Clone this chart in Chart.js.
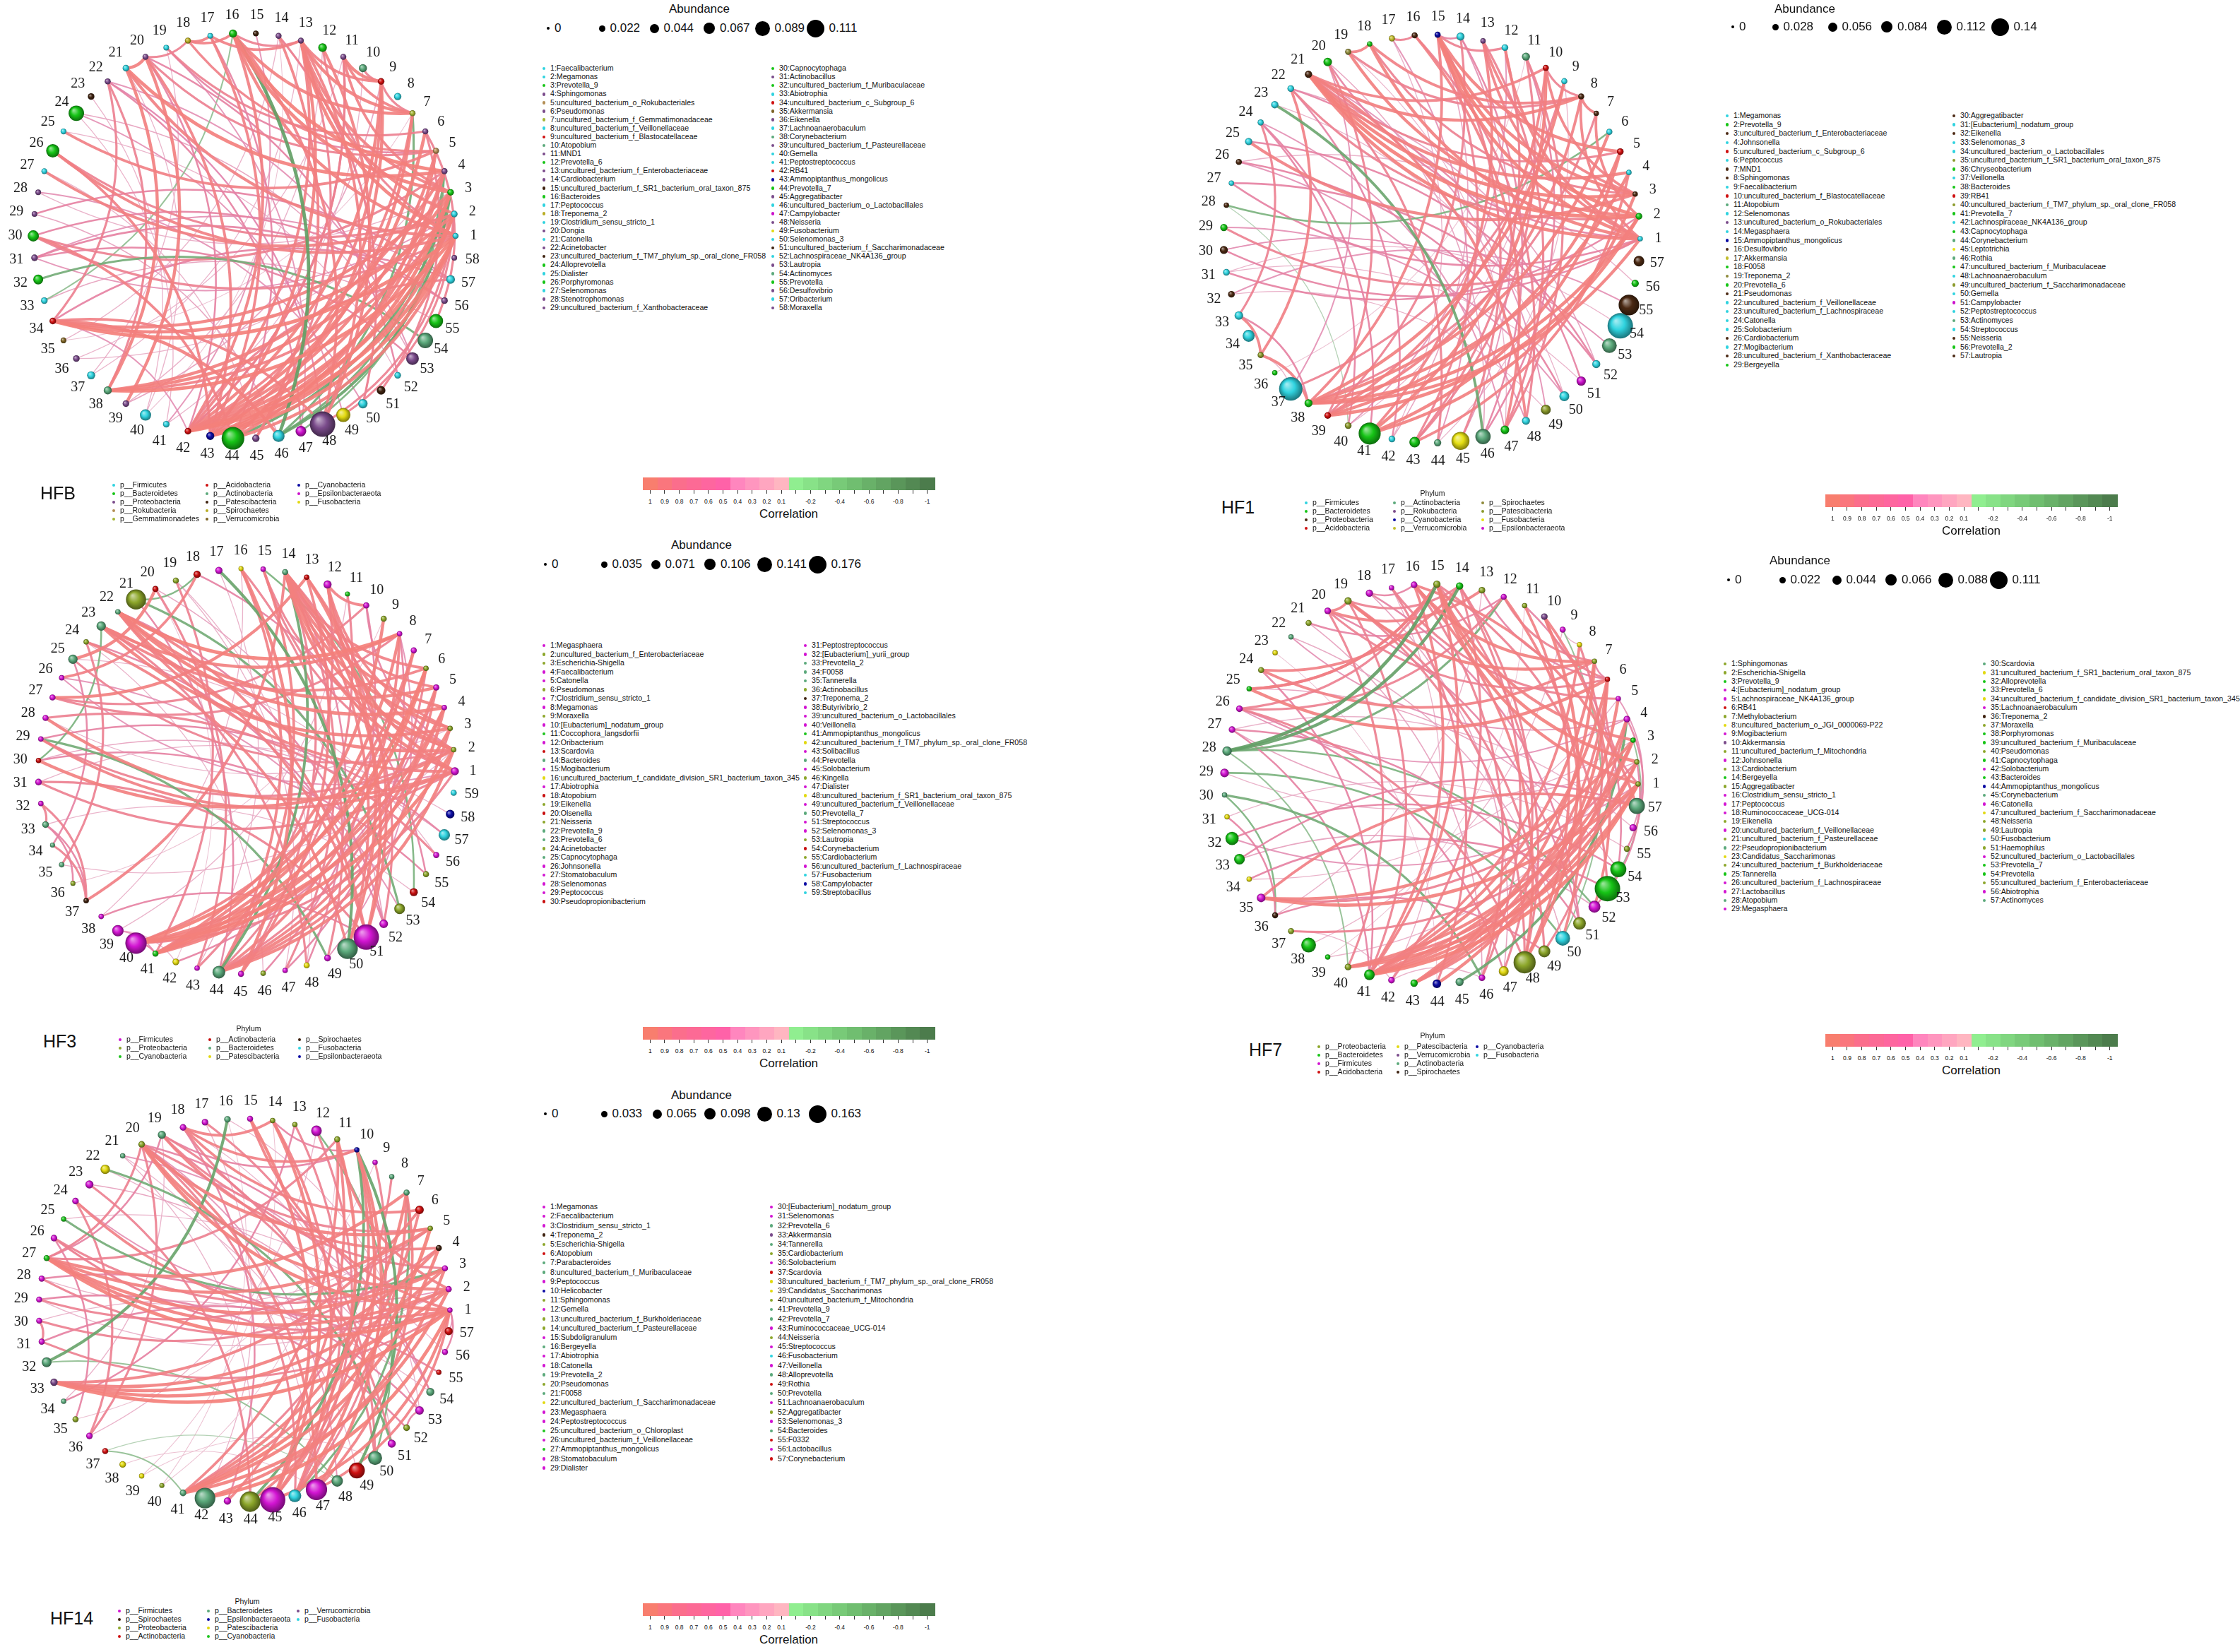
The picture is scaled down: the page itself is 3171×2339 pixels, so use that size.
<!DOCTYPE html>
<html>
<head>
<meta charset="utf-8">
<title>Co-occurrence networks HFB / HF1 / HF3 / HF7 / HF14</title>
<script src="https://cdn.jsdelivr.net/npm/chart.js@4.4.1/dist/chart.umd.min.js"></script>
<style>
  html, body { margin: 0; padding: 0; background: #fff; }
  #fig { position: relative; width: 3171px; height: 2339px; overflow: hidden; background: #fff;
         font-family: "Liberation Sans", Arial, Helvetica, sans-serif; color: #111; }
  #fig canvas { position: absolute; }
  #fig div { position: absolute; white-space: nowrap; }
</style>
</head>
<body>
<div id="fig"></div>
<script>
// ---------------- data ----------------
const phylumNames = { Fi: 'p__Firmicutes', Ba: 'p__Bacteroidetes', Pr: 'p__Proteobacteria', Ro: 'p__Rokubacteria',
  Ge: 'p__Gemmatimonadetes', Ac: 'p__Acidobacteria', At: 'p__Actinobacteria', Pa: 'p__Patescibacteria',
  Sp: 'p__Spirochaetes', Ve: 'p__Verrucomicrobia', Cy: 'p__Cyanobacteria', Ep: 'p__Epsilonbacteraeota', Fu: 'p__Fusobacteria' }

const corrTicks = [1, 0.9, 0.8, 0.7, 0.6, 0.5, 0.4, 0.3, 0.2, 0.1, -0.1, -0.2, -0.3, -0.4, -0.5, -0.6, -0.7, -0.8, -0.9, -1]
const corrTickLabels = ['1', '0.9', '0.8', '0.7', '0.6', '0.5', '0.4', '0.3', '0.2', '0.1', '', '-0.2', '', '-0.4', '', '-0.6', '', '-0.8', '', '-1']

// HFB
const hfbNames = ['Faecalibacterium','Megamonas','Prevotella_9','Sphingomonas','uncultured_bacterium_o_Rokubacteriales','Pseudomonas',
  'uncultured_bacterium_f_Gemmatimonadaceae','uncultured_bacterium_f_Veillonellaceae','uncultured_bacterium_f_Blastocatellaceae','Atopobium',
  'MND1','Prevotella_6','uncultured_bacterium_f_Enterobacteriaceae','Cardiobacterium','uncultured_bacterium_f_SR1_bacterium_oral_taxon_875',
  'Bacteroides','Peptococcus','Treponema_2','Clostridium_sensu_stricto_1','Dongia','Catonella','Acinetobacter',
  'uncultured_bacterium_f_TM7_phylum_sp._oral_clone_FR058','Alloprevotella','Dialister','Porphyromonas','Selenomonas','Stenotrophomonas',
  'uncultured_bacterium_f_Xanthobacteraceae','Capnocytophaga','Actinobacillus','uncultured_bacterium_f_Muribaculaceae','Abiotrophia',
  'uncultured_bacterium_c_Subgroup_6','Akkermansia','Eikenella','Lachnoanaerobaculum','Corynebacterium','uncultured_bacterium_f_Pasteurellaceae',
  'Gemella','Peptostreptococcus','RB41','Ammopiptanthus_mongolicus','Prevotella_7','Aggregatibacter','uncultured_bacterium_o_Lactobacillales',
  'Campylobacter','Neisseria','Fusobacterium','Selenomonas_3','uncultured_bacterium_f_Saccharimonadaceae','Lachnospiraceae_NK4A136_group',
  'Lautropia','Actinomyces','Prevotella','Desulfovibrio','Oribacterium','Moraxella']
const hfbPhyla = ['Fi','Fi','Ba','Pr','Ro','Pr','Ge','Fi','Ac','At','Pr','Ba','Pr','Pr','Pa','Ba','Fi','Sp','Fi','Pr',
  'Fi','Pr','Pa','Ba','Fi','Ba','Fi','Pr','Pr','Ba','Pr','Ba','Fi','Ac','Ve','Pr','Fi','At','Pr','Fi',
  'Fi','Ac','Cy','Ba','Pr','Fi','Ep','Pr','Fu','Fi','Pa','Fi','Pr','At','Ba','Pr','Fi','Pr']
const hfbAbund = [.006,.009,.009,.006,.006,.006,.006,.013,.009,.017,.006,.02,.005,.006,.005,.017,.004,.006,.004,.006,
  .009,.006,.009,.057,.005,.045,.005,.004,.004,.034,.009,.027,.009,.009,.005,.009,.017,.017,.009,.034,
  .009,.009,.017,.096,.013,.038,.031,.111,.05,.024,.02,.009,.042,.057,.05,.009,.02,.004]
const hfbSizeTicks = [0, 0.022, 0.044, 0.067, 0.089, 0.111]
const hfbLegendCols = [['Fi','Ba','Pr','Ro','Ge'], ['Ac','At','Pa','Sp','Ve'], ['Cy','Ep','Fu']]
const hfbLinks = [[34,1,.9],[34,2,.85],[34,3,.8],[34,57,.5],[34,48,.7],[34,46,.8],[34,42,.4],[34,22,.6],
  [38,1,.9],[38,3,.85],[38,4,.8],[38,21,.8],[38,22,.6],[38,2,.7],
  [42,1,.9],[42,2,.9],[42,3,.85],[42,4,.8],[42,5,.8],[42,6,.85],[42,7,.7],[42,9,.8],[42,13,.7],[42,16,.75],[42,11,.6],
  [43,1,.9],[43,2,.85],[43,3,.9],[43,4,.8],[43,7,.8],[43,9,.75],[43,13,.8],[43,17,.7],[43,20,.7],[43,26,.7],
  [46,3,-.75],[46,7,-.6],[16,46,-.85],[46,4,-.6],[44,3,-.7],[47,4,-.5],
  [16,1,.8],[16,3,.85],[16,4,.9],[16,7,.8],[16,13,.6],[16,18,.7],[16,48,.7],
  [13,1,.85],[13,2,.8],[13,3,.75],[13,7,.8],[13,9,.7],[13,17,.7],[13,45,.6],[13,48,.7],
  [11,7,.7],[11,9,.8],[11,3,.7],[11,42,.6],[9,10,.6],[9,7,.6],[9,44,.8],
  [12,48,.75],[12,1,.6],[17,44,.5],[17,18,.7],[18,20,.6],[19,6,.6],[19,5,.5],[18,5,.65],
  [21,4,.85],[21,1,.75],[21,20,.8],[20,39,.8],[20,5,.6],[22,53,.4],[22,47,.5],
  [24,49,.4],[25,5,.7],[26,1,.75],[26,2,.6],[27,2,.75],[28,50,.4],[29,57,.5],[30,1,.6],[30,4,.6],[31,57,.4],[31,56,.5],
  [32,54,-.6],[33,16,-.4],[23,40,.3],[35,7,.25],[36,4,.3],[37,13,.3],[39,12,.3],[40,14,.25],[41,15,.4],[45,14,.7],
  [49,2,.6],[50,14,.6],[51,6,.6],[52,20,.5],[53,31,.5],[55,6,.6],[56,30,.5],[57,42,.6],[48,2,.6],[44,30,.7],[44,1,.8],[44,5,.8],
  [24,53,.35],[22,48,.45],[20,42,.5],[25,52,.3],[27,45,.3],[28,3,.3],[29,46,.35],[31,2,.4],[33,55,.35],[35,14,.3],
  [36,11,.3],[37,19,.3],[39,9,.35],[40,21,.3],[41,24,.3],[19,47,.4],[14,50,.4],[10,41,.3]]

// HF1
const hf1Names = ['Megamonas','Prevotella_9','uncultured_bacterium_f_Enterobacteriaceae','Johnsonella','uncultured_bacterium_c_Subgroup_6',
  'Peptococcus','MND1','Sphingomonas','Faecalibacterium','uncultured_bacterium_f_Blastocatellaceae','Atopobium','Selenomonas',
  'uncultured_bacterium_o_Rokubacteriales','Megasphaera','Ammopiptanthus_mongolicus','Desulfovibrio','Akkermansia','F0058','Treponema_2',
  'Prevotella_6','Pseudomonas','uncultured_bacterium_f_Veillonellaceae','uncultured_bacterium_f_Lachnospiraceae','Catonella','Solobacterium',
  'Cardiobacterium','Mogibacterium','uncultured_bacterium_f_Xanthobacteraceae','Bergeyella','Aggregatibacter','[Eubacterium]_nodatum_group',
  'Eikenella','Selenomonas_3','uncultured_bacterium_o_Lactobacillales','uncultured_bacterium_f_SR1_bacterium_oral_taxon_875','Chryseobacterium',
  'Veillonella','Bacteroides','RB41','uncultured_bacterium_f_TM7_phylum_sp._oral_clone_FR058','Prevotella_7','Lachnospiraceae_NK4A136_group',
  'Capnocytophaga','Corynebacterium','Leptotrichia','Rothia','uncultured_bacterium_f_Muribaculaceae','Lachnoanaerobaculum',
  'uncultured_bacterium_f_Saccharimonadaceae','Gemella','Campylobacter','Peptostreptococcus','Actinomyces','Streptococcus','Neisseria',
  'Prevotella_2','Lautropia']
const hf1Phyla = ['Fi','Ba','Pr','Fi','Ac','Fi','Pr','Pr','Fi','Ac','At','Fi','Ro','Fi','Cy','Pr','Ve','Ba','Sp','Ba',
  'Pr','Fi','Fi','Fi','Fi','Pr','Fi','Pr','Ba','Pr','Fi','Pr','Fi','Fi','Pa','Ba','Fi','Ba','Ac','Pa',
  'Ba','Fi','Ba','At','Fu','At','Ba','Fi','Pa','Fi','Ep','Fi','At','Fi','Pr','Ba','Pr']
const hf1Abund = [.003,.012,.003,.003,.012,.008,.003,.008,.008,.008,.021,.012,.003,.021,.008,.008,.008,.003,.008,.025,
  .016,.012,.016,.008,.016,.008,.003,.003,.016,.021,.012,.012,.025,.048,.008,.003,.126,.021,.012,.012,
  .117,.012,.039,.016,.089,.071,.025,.021,.034,.034,.03,.021,.067,.14,.107,.016,.039]
const hf1SizeTicks = [0, 0.028, 0.056, 0.084, 0.112, 0.14]
const hf1LegendCols = [['Fi','Ba','Pr','Ac'], ['At','Ro','Cy','Ve'], ['Sp','Pa','Fu','Ep']]
const hf1Links = [[21,1,.85],[21,2,.9],[21,3,.85],[21,4,.8],[21,8,.8],[21,10,.7],[21,5,.6],[21,44,.6],[21,48,.7],
  [22,51,.5],[22,2,.6],[20,1,.5],[19,18,.7],[19,2,.8],[18,8,.7],[18,3,.6],[18,1,.8],
  [15,1,.85],[15,2,.9],[15,3,.8],[15,5,.8],[15,43,.6],[15,45,.6],[15,38,.7],[15,14,.5],[15,12,.6],
  [16,47,.7],[16,17,.6],[14,46,.5],[14,39,.6],[13,3,.7],[13,1,.7],[12,1,.75],[12,40,.4],[11,43,.6],[11,47,.6],
  [10,8,.6],[10,39,.7],[10,41,.8],[10,3,.7],[9,38,.8],[9,37,.6],[8,39,.7],[8,1,.7],[8,19,.6],[7,8,.7],[7,2,.7],[7,38,.6],
  [6,38,.8],[5,39,.8],[5,41,.8],[4,38,.8],[4,43,.7],[3,41,.8],[2,38,.85],[2,39,.85],[1,38,.8],[1,27,.5],
  [38,33,.5],[38,35,.7],[39,20,.6],[41,24,.5],[41,13,.7],[43,12,.6],[45,14,.4],[48,16,.6],[48,26,.4],[49,21,.4],
  [50,29,.4],[52,25,.5],[53,30,.4],[54,31,.3],[55,32,.4],[33,35,.7],[35,22,.7],[35,37,.3],[33,24,.6],[31,2,.5],
  [29,1,.6],[30,1,.5],[25,3,.75],[26,50,.5],[27,52,.5],[24,40,.5],[42,22,.5],[44,17,.4],[23,46,-.7],[6,28,-.5],
  [28,40,-.3],[47,13,.6],[46,11,.5],
  [20,46,.35],[22,52,.35],[24,47,.4],[26,56,.3],[30,53,.3],[31,51,.3],[32,49,.3],[36,11,.25],[37,20,.4],
  [40,10,.3],[42,15,.35],[44,9,.3],[47,19,.3],[50,23,.3],[17,42,.3]]

// HF3
const hf3Names = ['Megasphaera','uncultured_bacterium_f_Enterobacteriaceae','Escherichia-Shigella','Faecalibacterium','Catonella','Pseudomonas',
  'Clostridium_sensu_stricto_1','Megamonas','Moraxella','[Eubacterium]_nodatum_group','Coccophora_langsdorfii','Oribacterium','Scardovia',
  'Bacteroides','Mogibacterium','uncultured_bacterium_f_candidate_division_SR1_bacterium_taxon_345','Abiotrophia','Atopobium','Eikenella',
  'Olsenella','Neisseria','Prevotella_9','Prevotella_6','Acinetobacter','Capnocytophaga','Johnsonella','Stomatobaculum','Selenomonas',
  'Peptococcus','Pseudopropionibacterium','Peptostreptococcus','[Eubacterium]_yurii_group','Prevotella_2','F0058','Tannerella',
  'Actinobacillus','Treponema_2','Butyrivibrio_2','uncultured_bacterium_o_Lactobacillales','Veillonella','Ammopiptanthus_mongolicus',
  'uncultured_bacterium_f_TM7_phylum_sp._oral_clone_FR058','Solibacillus','Prevotella','Solobacterium','Kingella','Dialister',
  'uncultured_bacterium_f_SR1_bacterium_oral_taxon_875','uncultured_bacterium_f_Veillonellaceae','Prevotella_7','Streptococcus',
  'Selenomonas_3','Lautropia','Corynebacterium','Cardiobacterium','uncultured_bacterium_f_Lachnospiraceae','Fusobacterium','Campylobacter',
  'Streptobacillus']
const hf3Phyla = ['Fi','Pr','Pr','Fi','Fi','Pr','Fi','Fi','Pr','Fi','Cy','Fi','At','Ba','Fi','Pa','Fi','At','Pr','At',
  'Pr','Ba','Ba','Pr','Ba','Fi','Fi','Fi','Fi','At','Fi','Fi','Ba','Ba','Ba','Pr','Sp','Fi','Fi','Fi',
  'Cy','Pa','Fi','Ba','Fi','Pr','Fi','Pa','Fi','Ba','Fi','Fi','Pr','At','Pr','Fi','Fu','Ep','Fu']
const hf3Abund = [.027,.004,.004,.004,.01,.004,.01,.004,.01,.01,.001,.027,.004,.01,.004,.001,.02,.02,.01,.01,
  .13,.004,.038,.004,.038,.004,.01,.01,.004,.004,.015,.004,.015,.001,.004,.001,.004,.004,.055,.141,
  .01,.015,.004,.067,.01,.004,.004,.01,.015,.135,.176,.032,.049,.027,.01,.01,.055,.032,.01]
const hf3SizeTicks = [0, 0.035, 0.071, 0.106, 0.141, 0.176]
const hf3LegendCols = [['Fi','Pr','Cy'], ['At','Ba','Pa'], ['Sp','Fu','Ep']]
const hf3Links = [[14,1,.8],[14,2,.85],[14,3,.8],[14,4,.8],[14,5,.7],[14,6,.7],[14,50,.7],[14,51,.8],[14,52,.6],[14,47,.6],[14,45,.6],
  [15,1,.6],[15,2,.6],[15,44,.7],[16,45,.8],[16,44,.7],[16,49,.6],
  [12,1,.8],[12,3,.7],[12,2,.7],[12,10,.7],[11,44,.6],[10,2,.5],[9,41,.8],[8,22,.9],[8,23,.8],[8,27,.6],[8,41,.8],[8,44,.7],
  [7,41,.8],[7,40,.7],[6,40,.9],[6,41,.9],[5,41,.8],[4,41,.8],[3,40,.85],[3,44,.7],[2,40,.9],[2,44,.8],[2,30,.8],[2,29,.6],
  [1,29,.7],[1,28,.8],[1,22,.7],[1,31,.6],
  [22,2,.8],[22,4,.85],[22,5,.8],[22,51,.7],[22,52,.5],[23,3,.8],[23,6,.7],[23,48,.6],[23,51,.7],[24,50,.7],[25,20,.8],[25,2,.6],
  [26,18,.7],[27,13,.8],[27,10,.6],[13,50,.8],[13,51,.7],[18,55,.5],[19,41,.6],[20,43,.6],[21,44,.5],[37,14,.7],[37,32,.6],
  [37,34,.6],[37,33,.5],[32,33,.6],[31,51,.6],[33,36,.5],[35,24,.6],[34,25,.5],[38,51,.5],[39,42,.3],[28,56,.6],[29,57,.5],
  [30,55,.5],[26,53,.4],[24,52,.5],[46,10,.5],[47,8,.5],[48,14,.5],[49,8,.4],[42,5,.5],[43,12,.6],[45,13,.7],[44,4,.8],[44,5,.7],
  [44,6,.6],[40,4,.8],[40,1,.6],[40,41,.5],
  [17,50,-.75],[14,44,-.7],[15,54,-.5],[21,53,-.6],[29,49,-.6],[23,30,-.5],[18,21,-.5],[41,39,.4],
  [19,47,.3],[20,52,.35],[25,56,.3],[26,1,.4],[28,3,.3],[30,57,.35],[31,58,.3],[33,54,.3],[35,2,.3],[36,9,.25],
  [38,16,.3],[39,11,.3],[42,20,.25],[43,17,.3],[46,24,.3],[48,19,.3]]

// HF7
const hf7Names = ['Sphingomonas','Escherichia-Shigella','Prevotella_9','[Eubacterium]_nodatum_group','Lachnospiraceae_NK4A136_group','RB41',
  'Methylobacterium','uncultured_bacterium_o_JGI_0000069-P22','Mogibacterium','Akkermansia','uncultured_bacterium_f_Mitochondria',
  'Johnsonella','Cardiobacterium','Bergeyella','Aggregatibacter','Clostridium_sensu_stricto_1','Peptococcus','Ruminococcaceae_UCG-014',
  'Eikenella','uncultured_bacterium_f_Veillonellaceae','uncultured_bacterium_f_Pasteurellaceae','Pseudopropionibacterium',
  'Candidatus_Saccharimonas','uncultured_bacterium_f_Burkholderiaceae','Tannerella','uncultured_bacterium_f_Lachnospiraceae','Lactobacillus',
  'Atopobium','Megasphaera','Scardovia','uncultured_bacterium_f_SR1_bacterium_oral_taxon_875','Alloprevotella','Prevotella_6',
  'uncultured_bacterium_f_candidate_division_SR1_bacterium_taxon_345','Lachnoanaerobaculum','Treponema_2','Moraxella','Porphyromonas',
  'uncultured_bacterium_f_Muribaculaceae','Pseudomonas','Capnocytophaga','Solobacterium','Bacteroides','Ammopiptanthus_mongolicus',
  'Corynebacterium','Catonella','uncultured_bacterium_f_Saccharimonadaceae','Neisseria','Lautropia','Fusobacterium','Haemophilus',
  'uncultured_bacterium_o_Lactobacillales','Prevotella_7','Prevotella','uncultured_bacterium_f_Enterobacteriaceae','Abiotrophia','Actinomyces']
const hf7Phyla = ['Pr','Pr','Ba','Fi','Fi','Ac','Pr','Pa','Fi','Ve','Pr','Fi','Pr','Ba','Pr','Fi','Fi','Fi','Pr','Fi',
  'Pr','At','Pa','Pr','Ba','Fi','Fi','At','Fi','At','Pa','Ba','Ba','Pa','Fi','Sp','Pr','Ba','Ba','Pr',
  'Ba','Fi','Ba','Cy','At','Fi','Pa','Pr','Pr','Fu','Pr','Fi','Ba','Ba','Pr','Fi','At']
const hf7Abund = [.002,.002,.002,.009,.002,.002,.002,.002,.006,.009,.002,.006,.009,.013,.013,.009,.002,.013,.013,.009,
  .006,.002,.002,.006,.002,.009,.009,.024,.02,.002,.002,.045,.031,.002,.02,.006,.006,.053,.002,.009,
  .031,.009,.013,.02,.017,.009,.027,.093,.038,.053,.042,.038,.111,.06,.006,.013,.06]
const hf7SizeTicks = [0, 0.022, 0.044, 0.066, 0.088, 0.111]
const hf7LegendCols = [['Pr','Ba','Fi','Ac'], ['Pa','Ve','At','Sp'], ['Cy','Fu']]
const hf7Links = [[28,15,-.85],[28,14,-.8],[28,12,-.6],[28,52,-.5],[29,50,-.5],[30,46,-.6],[30,36,-.5],[28,40,-.4],[45,4,-.7],[9,50,-.4],[3,53,-.4],
  [41,1,.9],[41,2,.85],[41,3,.8],[41,4,.8],[41,6,.8],[41,7,.75],[41,15,.7],[41,16,.7],[41,19,.6],[41,8,.7],[41,24,.5],
  [40,1,.85],[40,3,.8],[40,2,.7],[40,20,.6],[43,5,.8],[43,6,.7],[43,7,.8],[43,4,.7],[44,6,.8],[44,17,.6],[42,14,.6],
  [15,1,.8],[15,2,.85],[15,3,.75],[15,25,.7],[15,26,.6],[15,53,.6],[15,48,.6],[16,7,.8],[16,57,.7],[16,48,.7],[16,46,.6],[16,18,.5],
  [19,7,.8],[19,20,.7],[19,14,.6],[19,48,.6],[19,49,.6],[20,13,.7],[20,6,.6],[21,12,.5],[22,4,.4],[24,7,.7],[24,14,.7],
  [25,6,.8],[25,15,.7],[26,12,.6],[26,47,.5],[26,48,.6],[27,41,.5],[27,51,.5],
  [35,1,.85],[35,3,.8],[35,57,.7],[35,2,.6],[32,54,.5],[33,57,.5],[34,53,.5],[31,36,.5],[37,1,.6],[37,42,.3],[39,3,.3],
  [10,48,.8],[10,52,.7],[10,6,.6],[11,48,.7],[11,54,.5],[12,50,.7],[12,7,.6],[13,6,.5],[14,46,.6],[14,47,.6],[17,5,.6],
  [18,51,.5],[9,8,.3],[8,49,.6],[7,6,.5],[6,1,.6],[5,56,.4],[4,55,.5],[2,52,.5],[49,36,.5],[46,42,.3],[51,20,.5],
  [21,46,.35],[22,50,.3],[23,44,.25],[26,4,.4],[27,2,.35],[29,3,.3],[31,55,.3],[32,1,.4],[33,52,.35],[34,5,.3],
  [36,13,.3],[38,9,.3],[39,11,.25],[42,17,.3],[47,18,.35],[50,22,.3],[54,25,.35],[56,27,.3]]

// HF14
const hf14Names = ['Megamonas','Faecalibacterium','Clostridium_sensu_stricto_1','Treponema_2','Escherichia-Shigella','Atopobium',
  'Parabacteroides','uncultured_bacterium_f_Muribaculaceae','Peptococcus','Helicobacter','Sphingomonas','Gemella',
  'uncultured_bacterium_f_Burkholderiaceae','uncultured_bacterium_f_Pasteurellaceae','Subdoligranulum','Bergeyella','Abiotrophia',
  'Catonella','Prevotella_2','Pseudomonas','F0058','uncultured_bacterium_f_Saccharimonadaceae','Megasphaera','Peptostreptococcus',
  'uncultured_bacterium_o_Chloroplast','uncultured_bacterium_f_Veillonellaceae','Ammopiptanthus_mongolicus','Stomatobaculum','Dialister',
  '[Eubacterium]_nodatum_group','Selenomonas','Prevotella_6','Akkermansia','Tannerella','Cardiobacterium','Solobacterium','Scardovia',
  'uncultured_bacterium_f_TM7_phylum_sp._oral_clone_FR058','Candidatus_Saccharimonas','uncultured_bacterium_f_Mitochondria','Prevotella_9',
  'Prevotella_7','Ruminococcaceae_UCG-014','Neisseria','Streptococcus','Fusobacterium','Veillonella','Alloprevotella','Rothia','Prevotella',
  'Lachnoanaerobaculum','Aggregatibacter','Selenomonas_3','Bacteroides','F0332','Lactobacillus','Corynebacterium']
const hf14Phyla = ['Fi','Fi','Fi','Sp','Pr','At','Ba','Ba','Fi','Ep','Pr','Fi','Pr','Pr','Fi','Ba','Fi','Fi','Ba','Pr',
  'Ba','Pa','Fi','Fi','Cy','Fi','Cy','Fi','Fi','Fi','Fi','Ba','Ve','Ba','Pr','Fi','At','Pa','Pa','Pr',
  'Ba','Ba','Fi','Pr','Fi','Fu','Fi','Ba','At','Ba','Fi','Pr','Fi','Ba','At','Fi','At']
const hf14Abund = [.003,.009,.009,.009,.003,.029,.009,.003,.003,.003,.009,.045,.003,.003,.009,.013,.013,.013,.025,.013,
  .003,.035,.025,.013,.003,.013,.009,.009,.009,.009,.009,.039,.019,.003,.009,.013,.009,.013,.003,.001,
  .013,.125,.019,.125,.163,.062,.13,.051,.088,.072,.025,.013,.029,.025,.003,.009,.025]
const hf14SizeTicks = [0, 0.033, 0.065, 0.098, 0.13, 0.163]
const hf14LegendCols = [['Fi','Sp','Pr','At'], ['Ba','Ep','Pa','Cy'], ['Ve','Fu']]
const hf14Links = [[27,1,.9],[27,2,.8],[27,3,.85],[27,5,.8],[27,7,.8],[27,11,.6],[27,19,.5],[27,20,.6],
  [33,1,.9],[33,2,.85],[33,3,.8],[33,4,.8],[33,6,.7],
  [20,1,.85],[20,2,.8],[20,5,.8],[20,47,.7],[20,51,.6],[20,46,.6],[19,4,.7],[19,5,.6],[19,10,.5],[18,14,.7],[18,10,.7],[18,6,.7],
  [18,3,.6],[17,50,.6],[15,45,.8],[15,1,.7],[14,46,.7],[14,45,.8],[13,46,.6],[11,45,.8],[11,43,.7],[11,41,.7],[11,2,.7],[9,46,.6],
  [8,41,.6],[7,41,.8],[7,44,.7],[7,47,.7],[6,41,.7],[5,41,.9],[4,41,.85],[3,42,.8],[2,41,.85],[1,42,.9],[1,45,.8],[1,47,.7],
  [1,31,.6],[1,26,.6],[1,24,.7],[2,28,.6],[3,26,.6],[4,30,.6],[5,29,.6],[10,47,.8],[10,46,.8],[10,45,.7],[12,46,.6],[14,10,.5],
  [23,44,.6],[24,36,.6],[26,35,.5],[28,53,.5],[29,52,.5],[30,31,.6],[31,55,.5],[34,13,.5],[36,20,.6],[21,54,.4],[38,47,.25],
  [39,50,.25],[40,16,.25],[43,18,.5],[48,20,.4],[49,22,.3],[50,19,.6],[52,53,.5],[54,20,.5],[56,1,.5],[57,1,.4],
  [32,16,-.75],[32,48,-.4],[10,49,-.75],[10,44,-.7],[12,50,-.5],[22,51,-.6],[25,3,-.6],[7,46,-.6],[41,37,-.4],
  [21,47,.3],[23,53,.35],[24,2,.4],[25,56,.3],[26,1,.35],[28,5,.3],[29,2,.3],[30,54,.3],[34,19,.3],[35,9,.25],
  [36,12,.3],[37,48,-.3],[39,14,.25],[40,11,.25],[42,17,.3],[44,21,.3],[51,18,.3],[53,16,.3]]

// ---------------- styles ----------------
const hfbColors = {Fi:'#2fd3df', Ba:'#16c416', Pr:'#7a4b8b', Ro:'#b38e55', Ge:'#a5b535', Ac:'#cf1010', At:'#5ba97b',
  Pa:'#3e2210', Sp:'#b9ad25', Ve:'#7d6325', Cy:'#0b0ba3', Ep:'#cc10cc', Fu:'#e2d910'}
const hf1Colors = {Fi:'#2fd3df', Ba:'#16c416', Pr:'#4b2913', Ac:'#cf1010', At:'#5ba97b', Ro:'#7a4b8b', Cy:'#0b0ba3',
  Ve:'#c2bd2d', Sp:'#8e8a3a', Pa:'#8b9a2b', Fu:'#e6e012', Ep:'#cc10cc'}
const hf3Colors = {Fi:'#d214d2', Pr:'#8ca62a', Cy:'#1ec41e', At:'#c80e0e', Ba:'#5ba97b', Pa:'#e2d910', Sp:'#3e2210',
  Fu:'#2fd3df', Ep:'#0b0ba3'}
const hf7Colors = {Pr:'#8ca62a', Ba:'#16c416', Fi:'#d214d2', Ac:'#cf1010', Pa:'#e2d910', Ve:'#7a4b8b', At:'#5ba97b',
  Sp:'#3e2210', Cy:'#0b0ba3', Fu:'#2fd3df'}
const hf14Colors = {Fi:'#d214d2', Sp:'#3e2210', Pr:'#8ca62a', At:'#cf1010', Ba:'#5ba97b', Ep:'#0b0ba3', Pa:'#e2d910',
  Cy:'#1ec41e', Ve:'#7a4b8b', Fu:'#2fd3df'}

const panels = [
  {tag:'HFB', names:hfbNames, phyla:hfbPhyla, abund:hfbAbund, links:hfbLinks, colors:hfbColors, legendCols:hfbLegendCols, sizeTicks:hfbSizeTicks,
   lay:{cx:346, cy:334, rx:314, ry:302, tagXY:[57,698], lst:[770,1094,97,12.1], dots:[776,852,926,1004,1079,1154], abY:40, abTitle:[990,13],
        phyl:[[161,293,423],687], phylTitle:null, bar:[910,676]}},
  {tag:'HF1', names:hf1Names, phyla:hf1Phyla, abund:hf1Abund, links:hf1Links, colors:hf1Colors, legendCols:hf1LegendCols, sizeTicks:hf1SizeTicks,
   lay:{cx:2027, cy:338, rx:310, ry:304, tagXY:[1729,718], lst:[2445,2766,164,12.6], dots:[2453,2513,2594,2671,2752,2831], abY:38, abTitle:[2555,13],
        phyl:[[1849,1974,2099],712], phylTitle:[2028,699], bar:[2584,700]}},
  {tag:'HF3', names:hf3Names, phyla:hf3Phyla, abund:hf3Abund, links:hf3Links, colors:hf3Colors, legendCols:hf3LegendCols, sizeTicks:hf3SizeTicks,
   lay:{cx:349, cy:1092, rx:310, ry:302, tagXY:[61,1474], lst:[770,1140,914,12.5], dots:[772,855,928,1005,1082,1157], abY:799, abTitle:[993,772],
        phyl:[[170,297,424],1472], phylTitle:[352,1457], bar:[910,1454]}},
  {tag:'HF7', names:hf7Names, phyla:hf7Phyla, abund:hf7Abund, links:hf7Links, colors:hf7Colors, legendCols:hf7LegendCols, sizeTicks:hf7SizeTicks,
   lay:{cx:2026, cy:1110, rx:308, ry:298, tagXY:[1768,1486], lst:[2442,2809,940,12.4], dots:[2447,2523,2600,2677,2754,2829], abY:821, abTitle:[2548,794],
        phyl:[[1867,1979,2091],1482], phylTitle:[2028,1467], bar:[2584,1464]}},
  {tag:'HF14', names:hf14Names, phyla:hf14Phyla, abund:hf14Abund, links:hf14Links, colors:hf14Colors, legendCols:hf14LegendCols, sizeTicks:hf14SizeTicks,
   lay:{cx:346, cy:1855, rx:306, ry:286, tagXY:[71,2291], lst:[770,1092,1709,13.2], dots:[772,855,930,1005,1082,1157], abY:1577, abTitle:[993,1551],
        phyl:[[169,295,422],2281], phylTitle:[350,2268], bar:[910,2270]}}
]

// ---------------- helpers ----------------
const fig = document.getElementById('fig')

function hexRgb(h) {
  const n = parseInt(h.slice(1), 16)
  return [n >> 16 & 255, n >> 8 & 255, n & 255]
}
function mix(a, b, t) { return a.map((v, i) => Math.round(v + (b[i] - v) * t)) }
function rgba(a, al = 1) { return `rgba(${a[0]},${a[1]},${a[2]},${al})` }
function ramp(stops, v) {
  if (v <= stops[0][0]) return stops[0][1]
  for (let i = 1; i < stops.length; i++) {
    if (v <= stops[i][0]) {
      const t = (v - stops[i - 1][0]) / (stops[i][0] - stops[i - 1][0])
      return mix(stops[i - 1][1], stops[i][1], t)
    }
  }
  return stops[stops.length - 1][1]
}

const barPos = [[0.1,[255,182,193]],[0.4,[255,134,190]],[0.5,[255,98,168]],[0.8,[251,110,140]],[1,[248,126,110]]]
const barNeg = [[0.1,[144,238,144]],[0.5,[112,190,112]],[1,[76,124,76]]]
const barColor = v => v > 0 ? ramp(barPos, v) : ramp(barNeg, -v)

const edgePos = [[0.2,[236,202,214]],[0.45,[226,130,172]],[0.65,[240,128,136]],[1,[245,128,118]]]
const edgeNeg = [[0.2,[206,222,206]],[0.45,[128,182,130]],[1,[88,150,92]]]
const edgeColor = r => r > 0 ? ramp(edgePos, r) : ramp(edgeNeg, -r)

function put(css, text) {
  const d = document.createElement('div')
  d.style.cssText = css
  if (text !== undefined) d.textContent = text
  fig.appendChild(d)
  return d
}
// left-aligned text, y = vertical centre
function txt(x, y, text, size) {
  return put(`left:${x}px;top:${y - size * 0.65}px;font-size:${size}px;line-height:${size * 1.3}px;`, text)
}
// centred text
function ctxt(x, y, text, size) {
  return put(`left:${x - 200}px;width:400px;text-align:center;top:${y - size * 0.65}px;font-size:${size}px;line-height:${size * 1.3}px;`, text)
}
function dot(x, y, d, col) {
  return put(`left:${x - d / 2}px;top:${y - d / 2}px;width:${d}px;height:${d}px;border-radius:50%;background:${col};`)
}

// ---------------- plugins ----------------
const edgePlugin = {
  id: 'edges',
  beforeDatasetsDraw(chart, args, opts) {
    const meta = chart.getDatasetMeta(0)
    const c = chart.ctx
    const list = opts.links.slice().sort((a, b) => Math.abs(a[2]) - Math.abs(b[2]))
    c.save()
    c.lineCap = 'round'
    for (const [a, b, r] of list) {
      const p = meta.data[Math.min(a, b) - 1], q = meta.data[Math.max(a, b) - 1]
      if (!p || !q) continue
      const dx = q.x - p.x, dy = q.y - p.y
      const k = 0.25
      const mx = (p.x + q.x) / 2 + k * dy, my = (p.y + q.y) / 2 - k * dx
      const s = Math.min(1, Math.max(0, (Math.abs(r) - 0.2) / 0.7))
      c.strokeStyle = rgba(edgeColor(r), 0.92)
      c.lineWidth = 0.7 + 4.3 * s
      c.beginPath()
      c.moveTo(p.x, p.y)
      c.quadraticCurveTo(mx, my, q.x, q.y)
      c.stroke()
    }
    c.restore()
  }
}

const labelPlugin = {
  id: 'nodeLabels',
  afterDatasetsDraw(chart, args, opts) {
    const c = chart.ctx, xs = chart.scales.x, ys = chart.scales.y
    c.save()
    c.font = '20px "Liberation Serif", "DejaVu Serif", serif'
    c.fillStyle = '#1a1a1a'
    c.textAlign = 'center'
    c.textBaseline = 'middle'
    for (let i = 0; i < opts.count; i++) {
      const a = 2 * Math.PI * i / opts.count
      c.fillText(String(i + 1), xs.getPixelForValue(Math.cos(a) * opts.kx), ys.getPixelForValue(Math.sin(a) * opts.ky))
    }
    c.restore()
  }
}

// ---------------- build ----------------
function buildPanel(P) {
  const L = P.lay
  const n = P.names.length
  const amax = P.sizeTicks[P.sizeTicks.length - 1]
  const radius = i => 3.5 + 14.5 * P.abund[i] / amax
  const M = 60
  const W = Math.round(2 * (L.rx + M)), H = Math.round(2 * (L.ry + M))
  const canvas = document.createElement('canvas')
  canvas.width = W
  canvas.height = H
  canvas.style.left = (L.cx - W / 2) + 'px'
  canvas.style.top = (L.cy - H / 2) + 'px'
  canvas.style.width = W + 'px'
  canvas.style.height = H + 'px'
  fig.appendChild(canvas)

  const pts = P.names.map((_, i) => ({ x: Math.cos(2 * Math.PI * i / n), y: Math.sin(2 * Math.PI * i / n) }))

  new Chart(canvas, {
    type: 'scatter',
    data: {
      datasets: [{
        data: pts,
        pointRadius: ctx => radius(ctx.dataIndex),
        pointHoverRadius: ctx => radius(ctx.dataIndex),
        borderWidth: 0,
        backgroundColor: ctx => {
          const base = hexRgb(P.colors[P.phyla[ctx.dataIndex]] || '#888888')
          const ch = ctx.chart
          if (!ctx.parsed || !ch.scales.x) return rgba(base)
          const x = ch.scales.x.getPixelForValue(ctx.parsed.x), y = ch.scales.y.getPixelForValue(ctx.parsed.y)
          const r = radius(ctx.dataIndex)
          if (!isFinite(x) || !isFinite(y)) return rgba(base)
          const g = ch.ctx.createRadialGradient(x - r * 0.35, y - r * 0.4, r * 0.05, x, y, r)
          g.addColorStop(0, rgba(mix(base, [255, 255, 255], 0.55)))
          g.addColorStop(0.5, rgba(base))
          g.addColorStop(1, rgba(mix(base, [0, 0, 0], 0.45)))
          return g
        }
      }]
    },
    options: {
      responsive: false,
      animation: false,
      devicePixelRatio: 1,
      events: [],
      layout: { padding: 0 },
      scales: {
        x: { display: false, min: -(L.rx + M) / L.rx, max: (L.rx + M) / L.rx },
        y: { display: false, min: -(L.ry + M) / L.ry, max: (L.ry + M) / L.ry }
      },
      plugins: {
        legend: { display: false },
        tooltip: { enabled: false },
        edges: { links: P.links },
        nodeLabels: { count: n, kx: 1 + 27 / L.rx, ky: 1 + 27 / L.ry }
      }
    },
    plugins: [edgePlugin, labelPlugin]
  })

  // panel tag
  txt(L.tagXY[0], L.tagXY[1], P.tag, 25)

  // abundance legend
  ctxt(L.abTitle[0], L.abTitle[1], 'Abundance', 17)
  const dsz = [4, 9, 13, 16, 21, 25]
  P.sizeTicks.forEach((v, k) => {
    dot(L.dots[k], L.abY, dsz[k], '#000')
    txt(L.dots[k] + dsz[k] / 2 + 7, L.abY, String(v), 17)
  })

  // node list
  const [x1, x2, y0, dy] = L.lst
  const half = Math.ceil(n / 2)
  P.names.forEach((nm, i) => {
    const col = i < half ? 0 : 1
    const row = col ? i - half : i
    const x = col ? x2 : x1
    const y = y0 + row * dy
    dot(x, y, 4.5, P.colors[P.phyla[i]])
    txt(x + 9, y, (i + 1) + ':' + nm, 10.6)
  })

  // phylum legend
  const [pcols, py0] = L.phyl
  if (L.phylTitle) ctxt(L.phylTitle[0], L.phylTitle[1], 'Phylum', 10.5)
  P.legendCols.forEach((colList, ci) => {
    colList.forEach((code, ri) => {
      const x = pcols[ci], y = py0 + ri * 12
      dot(x, y, 4.5, P.colors[code])
      txt(x + 9, y, phylumNames[code], 10.5)
    })
  })

  // correlation colour bar
  const [bx, by] = L.bar
  const bw = 20.65
  corrTicks.forEach((v, k) => {
    put(`left:${bx + k * bw}px;top:${by}px;width:${bw + 0.6}px;height:18px;background:${rgba(barColor(v))};`)
    put(`left:${bx + k * bw + bw / 2 - 0.5}px;top:${by + 18}px;width:1px;height:5px;background:#333;`)
    if (corrTickLabels[k]) ctxt(bx + k * bw + bw / 2, by + 35, corrTickLabels[k], 8.5)
  })
  ctxt(bx + 10 * bw, by + 52, 'Correlation', 17)
}

panels.forEach(buildPanel)
</script>
</body>
</html>
